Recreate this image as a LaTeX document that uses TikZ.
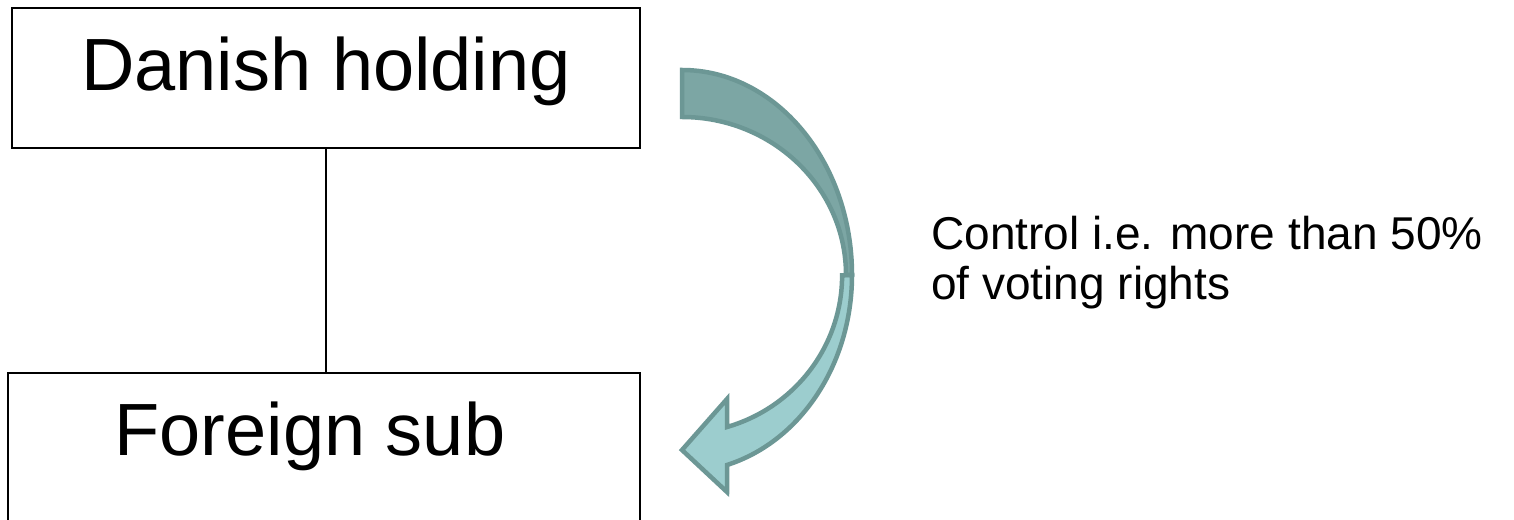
\documentclass[tikz,border=0pt]{standalone}
\usepackage{fontspec}
\setmainfont{Liberation Sans}
\definecolor{arrowdark}{RGB}{124,166,164}
\definecolor{arrowlight}{RGB}{156,205,206}
\definecolor{arrowedge}{RGB}{108,151,149}
\begin{document}
\begin{tikzpicture}[x=1pt,y=1pt,
  entity/.style={draw=black, line width=1.5pt, rectangle, inner sep=0pt},
  bigtext/.style={font=\fontsize{74}{80}\selectfont, inner sep=0pt},
  note/.style={font=\fontsize{46}{50}\selectfont, inner sep=0pt, align=left},
  arrowline/.style={draw=arrowedge, line width=4.5pt, line join=miter}]
\clip (0,0) rectangle (1514,519);
\fill[white] (0,0) rectangle (1514,519);

% company boxes
\node[entity, minimum width=628pt, minimum height=140pt] (dh) at (326,441) {};
\node[entity, minimum width=632pt, minimum height=166pt] (fs) at (324,63) {};
\node[bigtext, anchor=base] (dhtext) at (326,428) {Danish holding};
\node[bigtext, anchor=base] (fstext) at (310,63) {Foreign sub};

% ownership link
\draw[line width=1.5pt] (dh.south) -- (dh.south |- fs.north);

% curved control arrow: lower part with head, then the upper band
\path[arrowline, fill=arrowlight]
  (852,244) arc[start angle=0, end angle=-74.6, x radius=170, y radius=197]
  -- (727,27) -- (682,69) -- (727,120) -- (727,92)
  arc[start angle=-73.7, end angle=0, x radius=160, y radius=158] -- cycle;
\path[arrowline, fill=arrowdark]
  (682,449) arc[start angle=90, end angle=0, x radius=170, y radius=205]
  -- (846,244)
  arc[start angle=0, end angle=90, x radius=164, y radius=158] -- cycle;

% explanation
\node[note, anchor=base west] (ctl) at (931,219) {Control i.e. more than 50\%\\of voting rights};
\end{tikzpicture}
\end{document}
